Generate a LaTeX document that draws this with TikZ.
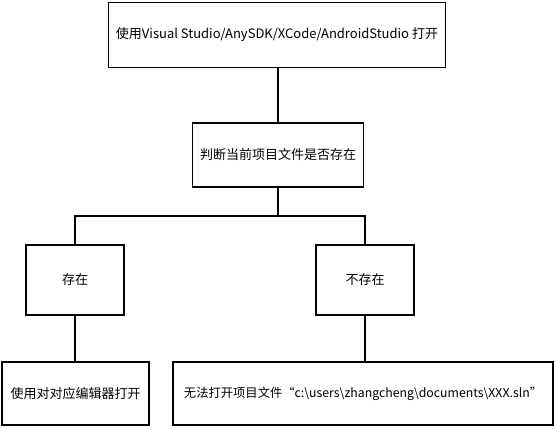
\documentclass[tikz,border=0pt]{standalone}
\usepackage{fontspec}
\setmainfont{Noto Sans CJK SC}
\usetikzlibrary{calc}

\tikzstyle{step box} = [rectangle, draw=black, line width=1.8pt, inner sep=0pt, outer sep=0pt, text centered, font=\fontsize{13}{15}\selectfont]
\tikzstyle{wire} = [line width=1.8pt]

\begin{document}
\begin{tikzpicture}[x=1pt, y=-1pt]
    \useasboundingbox (0,0) rectangle (556,430);
    \node (open_ide) [step box, minimum width=337pt, minimum height=65pt] at (277,35) {使用Visual Studio/AnySDK/XCode/AndroidStudio 打开};
    \node (check) [step box, minimum width=171pt, minimum height=64pt] at (278,155) {判断当前项目文件是否存在};
    \node (exists) [step box, minimum width=98pt, minimum height=70pt] at (75,280) {存在};
    \node (missing) [step box, minimum width=98pt, minimum height=70pt] at (365,280) {不存在};
    \node (open_editor) [step box, minimum width=147pt, minimum height=63pt] at (75.5,393.5) {使用对对应编辑器打开};
    \node (fail) [step box, minimum width=380pt, minimum height=63pt, font=\fontsize{12.3}{15}\selectfont] at (363,393.5) {无法打开项目文件“c:\textbackslash users\textbackslash zhangcheng\textbackslash documents\textbackslash XXX.sln”};

    \coordinate (split) at ($(check.south)+(0,29)$);

    \draw [wire] (open_ide.south -| check.north) -- (check.north);
    \draw [wire] (check.south) -- (split);
    \draw [wire] (split) -| (exists.north);
    \draw [wire] (split) -| (missing.north);
    \draw [wire] (exists.south) -- (exists.south |- open_editor.north);
    \draw [wire] (missing.south) -- (missing.south |- fail.north);

\end{tikzpicture}
\end{document}
